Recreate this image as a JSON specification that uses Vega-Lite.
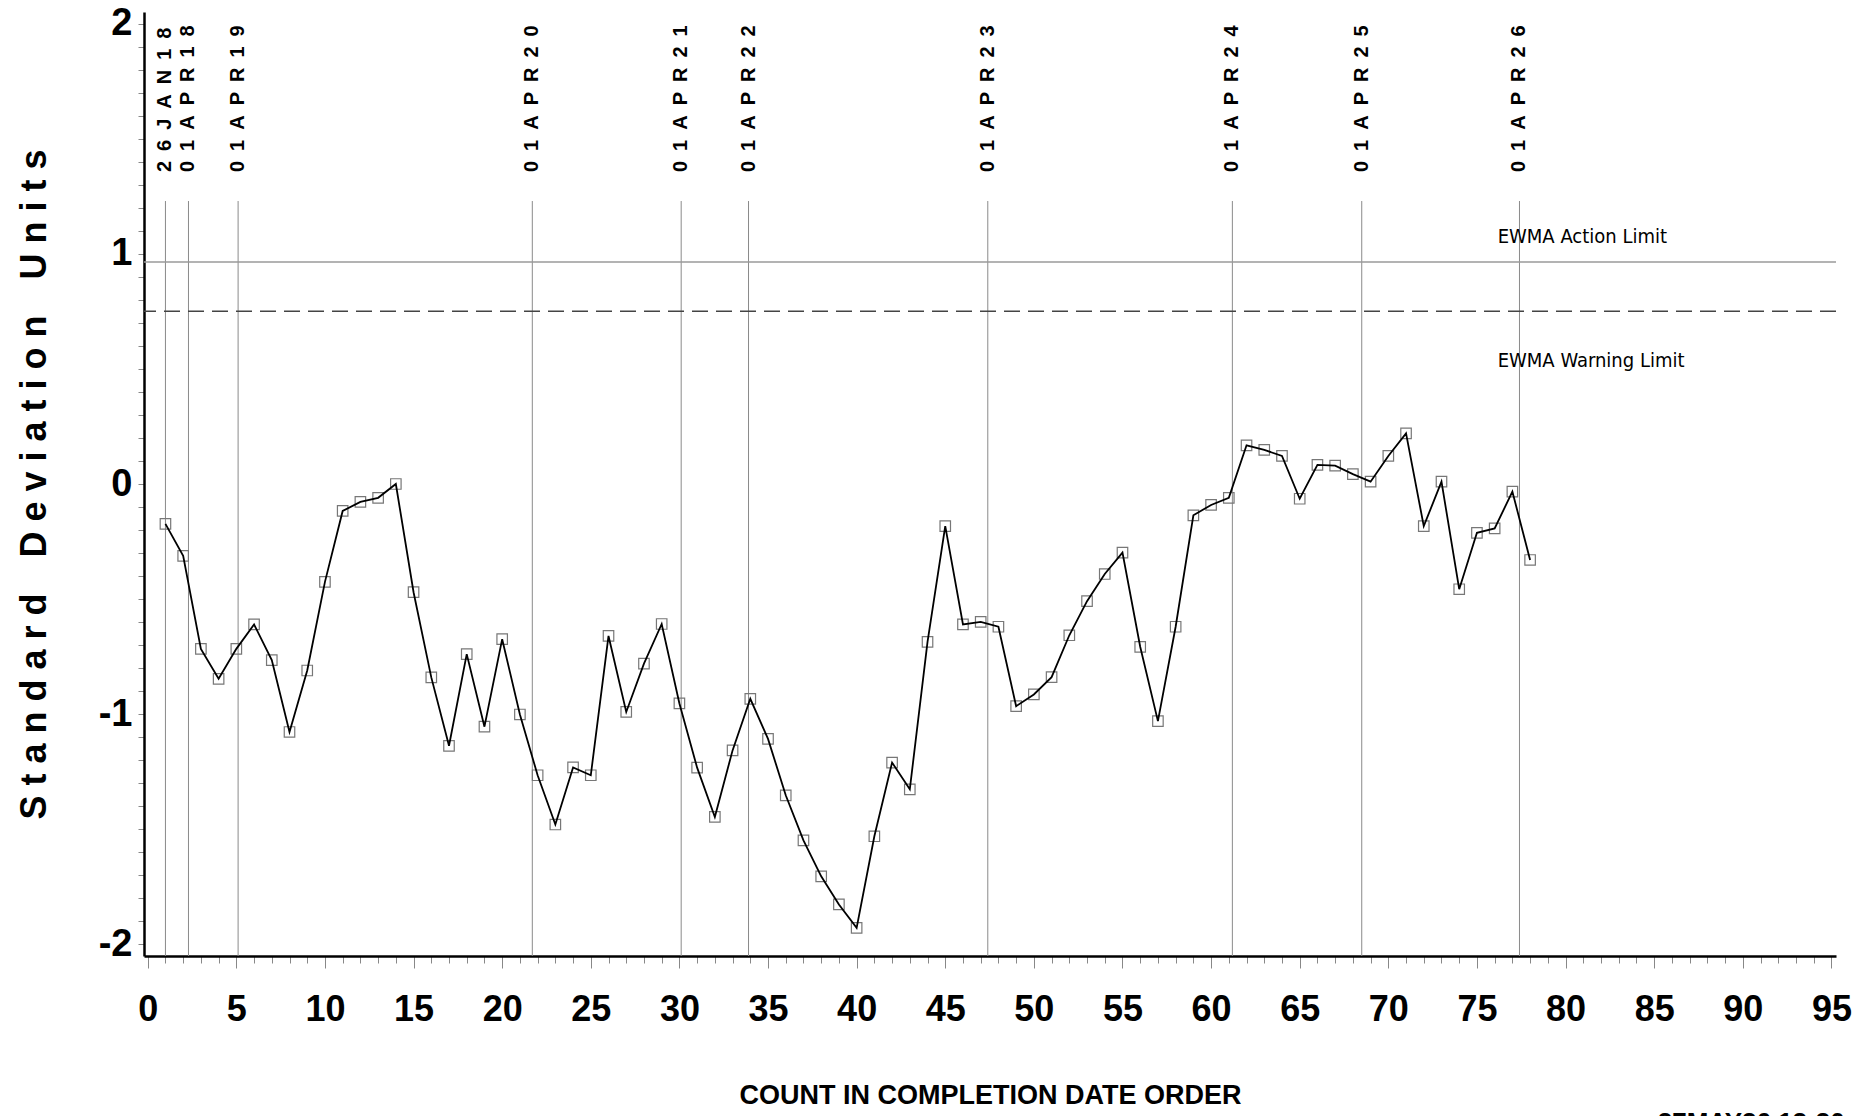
{
  "$schema": "https://vega.github.io/schema/vega-lite/v6.json",
  "width": 1692,
  "height": 944,
  "autosize": {"type": "none"},
  "padding": {"left": 144, "top": 12, "right": 18, "bottom": 160},
  "background": "white",
  "config": {
    "view": {"stroke": null},
    "axis": {"grid": false}
  },
  "datasets": {
    "series": [
      {"count": 1, "value": -0.173}, {"count": 2, "value": -0.312}, {"count": 3, "value": -0.716}, {"count": 4, "value": -0.846},
      {"count": 5, "value": -0.716}, {"count": 6, "value": -0.61}, {"count": 7, "value": -0.765}, {"count": 8, "value": -1.077},
      {"count": 9, "value": -0.81}, {"count": 10, "value": -0.425}, {"count": 11, "value": -0.117}, {"count": 12, "value": -0.078},
      {"count": 13, "value": -0.06}, {"count": 14, "value": 0.0}, {"count": 15, "value": -0.47}, {"count": 16, "value": -0.84},
      {"count": 17, "value": -1.137}, {"count": 18, "value": -0.739}, {"count": 19, "value": -1.054}, {"count": 20, "value": -0.674},
      {"count": 21, "value": -1.001}, {"count": 22, "value": -1.265}, {"count": 23, "value": -1.479}, {"count": 24, "value": -1.231},
      {"count": 25, "value": -1.265}, {"count": 26, "value": -0.66}, {"count": 27, "value": -0.99}, {"count": 28, "value": -0.78},
      {"count": 29, "value": -0.608}, {"count": 30, "value": -0.953}, {"count": 31, "value": -1.232}, {"count": 32, "value": -1.446},
      {"count": 33, "value": -1.157}, {"count": 34, "value": -0.933}, {"count": 35, "value": -1.107}, {"count": 36, "value": -1.352},
      {"count": 37, "value": -1.548}, {"count": 38, "value": -1.704}, {"count": 39, "value": -1.826}, {"count": 40, "value": -1.928},
      {"count": 41, "value": -1.53}, {"count": 42, "value": -1.21}, {"count": 43, "value": -1.326}, {"count": 44, "value": -0.686},
      {"count": 45, "value": -0.183}, {"count": 46, "value": -0.61}, {"count": 47, "value": -0.599}, {"count": 48, "value": -0.62},
      {"count": 49, "value": -0.965}, {"count": 50, "value": -0.914}, {"count": 51, "value": -0.839}, {"count": 52, "value": -0.657},
      {"count": 53, "value": -0.509}, {"count": 54, "value": -0.391}, {"count": 55, "value": -0.298}, {"count": 56, "value": -0.707},
      {"count": 57, "value": -1.03}, {"count": 58, "value": -0.62}, {"count": 59, "value": -0.136}, {"count": 60, "value": -0.091},
      {"count": 61, "value": -0.06}, {"count": 62, "value": 0.168}, {"count": 63, "value": 0.148}, {"count": 64, "value": 0.122},
      {"count": 65, "value": -0.064}, {"count": 66, "value": 0.083}, {"count": 67, "value": 0.08}, {"count": 68, "value": 0.043},
      {"count": 69, "value": 0.01}, {"count": 70, "value": 0.122}, {"count": 71, "value": 0.22}, {"count": 72, "value": -0.183},
      {"count": 73, "value": 0.01}, {"count": 74, "value": -0.457}, {"count": 75, "value": -0.212}, {"count": 76, "value": -0.193},
      {"count": 77, "value": -0.033}, {"count": 78, "value": -0.33}
    ],
    "dates": [
      {"count": 1.0, "label": "26JAN18"},
      {"count": 2.3, "label": "01APR18"},
      {"count": 5.1, "label": "01APR19"},
      {"count": 21.7, "label": "01APR20"},
      {"count": 30.1, "label": "01APR21"},
      {"count": 33.9, "label": "01APR22"},
      {"count": 47.4, "label": "01APR23"},
      {"count": 61.2, "label": "01APR24"},
      {"count": 68.5, "label": "01APR25"},
      {"count": 77.4, "label": "01APR26"}
    ]
  },
  "encoding": {
    "x": {
      "type": "quantitative",
      "scale": {"domain": [-0.21, 95.26], "nice": false, "zero": false},
      "axis": {
        "title": "COUNT IN COMPLETION DATE ORDER",
        "titleFont": "Liberation Sans, Arial, sans-serif",
        "titleFontSize": 27,
        "titleFontWeight": "bold",
        "titleColor": "black",
        "titlePadding": 55,
        "values": [0,1,2,3,4,5,6,7,8,9,10,11,12,13,14,15,16,17,18,19,20,21,22,23,24,25,26,27,28,29,30,31,32,33,34,35,36,37,38,39,40,41,42,43,44,45,46,47,48,49,50,51,52,53,54,55,56,57,58,59,60,61,62,63,64,65,66,67,68,69,70,71,72,73,74,75,76,77,78,79,80,81,82,83,84,85,86,87,88,89,90,91,92,93,94,95],
        "labelExpr": "datum.value % 5 === 0 ? datum.label : ''",
        "tickSize": {"condition": {"test": "datum.value % 5 === 0", "value": 12}, "value": 7},
        "tickColor": "#888888",
        "tickWidth": 1,
        "domainColor": "black",
        "domainWidth": 2.5,
        "labelFont": "Liberation Sans, Arial, sans-serif",
        "labelFontSize": 36,
        "labelFontWeight": "bold",
        "labelColor": "black",
        "labelPadding": 24,
        "labelOverlap": false,
        "labelFlush": false
      }
    },
    "y": {
      "type": "quantitative",
      "scale": {"domain": [-2.05, 2.05], "nice": false, "zero": false},
      "axis": {
        "title": "S t a n d a r d\u2003D e v i a t i o n\u2003U n i t s",
        "titleFont": "Liberation Sans, Arial, sans-serif",
        "titleFontSize": 36,
        "titleFontWeight": "bold",
        "titleColor": "black",
        "titlePadding": 45,
        "values": [-2,-1.9,-1.8,-1.7,-1.6,-1.5,-1.4,-1.3,-1.2,-1.1,-1,-0.9,-0.8,-0.7,-0.6,-0.5,-0.4,-0.3,-0.2,-0.1,0,0.1,0.2,0.3,0.4,0.5,0.6,0.7,0.8,0.9,1,1.1,1.2,1.3,1.4,1.5,1.6,1.7,1.8,1.9,2],
        "labelExpr": "abs(datum.value - round(datum.value)) < 0.001 ? toString(round(datum.value)) : ''",
        "tickSize": 6,
        "tickColor": "#888888",
        "domainColor": "black",
        "domainWidth": 2.5,
        "labelFont": "Liberation Sans, Arial, sans-serif",
        "labelFontSize": 38,
        "labelFontWeight": "bold",
        "labelColor": "black",
        "labelPadding": 6,
        "labelOverlap": false,
        "labelFlush": false
      }
    }
  },
  "layer": [
    {
      "data": {"name": "dates"},
      "mark": {"type": "rule", "color": "#8a8a8a", "strokeWidth": 1},
      "encoding": {
        "x": {"field": "count", "type": "quantitative"},
        "y": {"datum": 1.229},
        "y2": {"datum": -2.05}
      }
    },
    {
      "data": {"name": "dates"},
      "transform": [{"calculate": "join(split(datum.label, ''), '\u2002')", "as": "spaced"}],
      "mark": {"type": "text", "angle": 270, "align": "left", "baseline": "middle", "font": "Liberation Sans, Arial, sans-serif", "fontSize": 20, "fontWeight": "bold", "color": "black"},
      "encoding": {
        "x": {"field": "count", "type": "quantitative"},
        "y": {"datum": 1.355},
        "text": {"field": "spaced"}
      }
    },
    {
      "data": {"values": [{}]},
      "mark": {"type": "rule", "color": "#9a9a9a", "strokeWidth": 1.5},
      "encoding": {"y": {"datum": 0.964}}
    },
    {
      "data": {"values": [{}]},
      "mark": {"type": "rule", "color": "#444444", "strokeWidth": 1.5, "strokeDash": [16, 8]},
      "encoding": {"y": {"datum": 0.75}}
    },
    {
      "data": {"values": [{}]},
      "mark": {"type": "text", "text": "EWMA Action Limit", "align": "left", "baseline": "alphabetic", "font": "DejaVu Sans Condensed, Liberation Sans, sans-serif", "fontSize": 20, "color": "black"},
      "encoding": {"x": {"datum": 76.17}, "y": {"datum": 1.046}}
    },
    {
      "data": {"values": [{}]},
      "mark": {"type": "text", "text": "EWMA Warning Limit", "align": "left", "baseline": "alphabetic", "font": "DejaVu Sans Condensed, Liberation Sans, sans-serif", "fontSize": 20, "color": "black"},
      "encoding": {"x": {"datum": 76.17}, "y": {"datum": 0.51}}
    },
    {
      "data": {"values": [{}]},
      "mark": {"type": "text", "text": "27MAY26 12:30", "align": "left", "baseline": "top", "font": "Liberation Sans, Arial, sans-serif", "fontSize": 26, "fontWeight": "bold", "color": "black"},
      "encoding": {"x": {"datum": 85.2}, "y": {"datum": -2.72}}
    },
    {
      "data": {"name": "series"},
      "mark": {"type": "point", "shape": "square", "filled": false, "size": 110, "stroke": "#777777", "strokeWidth": 1.2, "opacity": 1},
      "encoding": {
        "x": {"field": "count", "type": "quantitative"},
        "y": {"field": "value", "type": "quantitative"}
      }
    },
    {
      "data": {"name": "series"},
      "mark": {"type": "line", "color": "black", "strokeWidth": 1.8},
      "encoding": {
        "x": {"field": "count", "type": "quantitative"},
        "y": {"field": "value", "type": "quantitative"}
      }
    }
  ]
}
